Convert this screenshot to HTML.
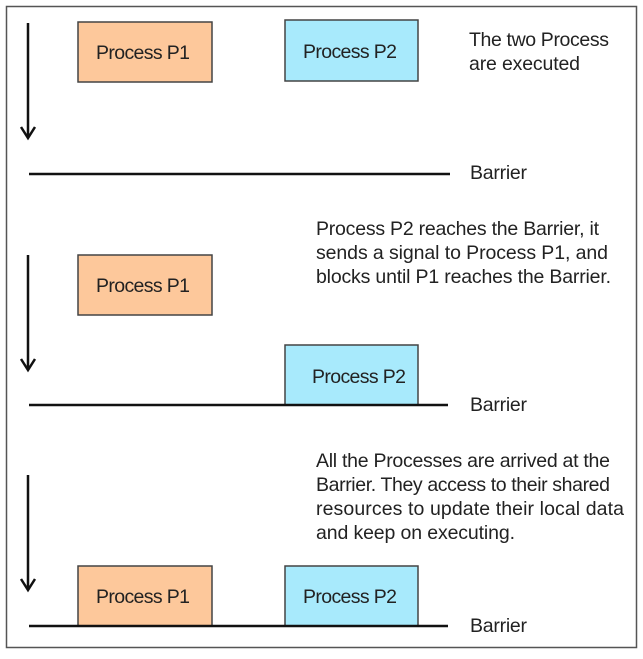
<!DOCTYPE html>
<html><head><style>
body{margin:0;width:643px;height:654px;background:#fff;overflow:hidden}
svg text{font-family:"Liberation Sans",sans-serif;font-size:19.5px;fill:#222}
</style></head><body>
<svg width="643" height="654" viewBox="0 0 643 654">
<rect x="6.5" y="6.5" width="630" height="641" fill="#fff" stroke="#555" stroke-width="1.5"/>
<g stroke="#111" stroke-width="2.5" fill="none">
<line x1="28" y1="23" x2="28" y2="138"/><polyline points="21,127 28,138 35,127"/>
<line x1="28" y1="255" x2="28" y2="370"/><polyline points="21,359 28,370 35,359"/>
<line x1="28" y1="475" x2="28" y2="590"/><polyline points="21,579 28,590 35,579"/>
</g>
<g stroke="#444" stroke-width="1.5">
<rect x="78" y="22" width="134" height="60" fill="#FDC89B"/>
<rect x="285" y="20" width="133" height="61" fill="#A8EAFC"/>
<rect x="78" y="255" width="134" height="60" fill="#FDC89B"/>
<rect x="285" y="345" width="133" height="60" fill="#A8EAFC"/>
<rect x="78" y="566" width="134" height="60" fill="#FDC89B"/>
<rect x="285" y="566" width="133" height="60" fill="#A8EAFC"/>
</g>
<g stroke="#111" stroke-width="2.5">
<line x1="29" y1="174" x2="450" y2="174"/>
<line x1="29" y1="405" x2="448" y2="405"/>
<line x1="29" y1="626" x2="448" y2="626"/>
</g>
<text x="96" y="59" textLength="94">Process P1</text>
<text x="303" y="58" textLength="94">Process P2</text>
<text x="96" y="292" textLength="94">Process P1</text>
<text x="312" y="383" textLength="94">Process P2</text>
<text x="96" y="603" textLength="94">Process P1</text>
<text x="303" y="603" textLength="94">Process P2</text>
<text x="469" y="46" textLength="140">The two Process</text>
<text x="469" y="70" textLength="111">are executed</text>
<text x="470" y="179" textLength="57">Barrier</text>
<text x="470" y="411" textLength="57">Barrier</text>
<text x="470" y="632" textLength="57">Barrier</text>
<text x="316" y="235" textLength="283">Process P2 reaches the Barrier, it</text>
<text x="316" y="259" textLength="292">sends a signal to Process P1, and</text>
<text x="316" y="283" textLength="295">blocks until P1 reaches the Barrier.</text>
<text x="316" y="467" textLength="294">All the Processes are arrived at the</text>
<text x="316" y="491" textLength="294">Barrier. They access to their shared</text>
<text x="316" y="515" textLength="308">resources to update their local data</text>
<text x="316" y="539" textLength="199">and keep on executing.</text>
</svg>
</body></html>
